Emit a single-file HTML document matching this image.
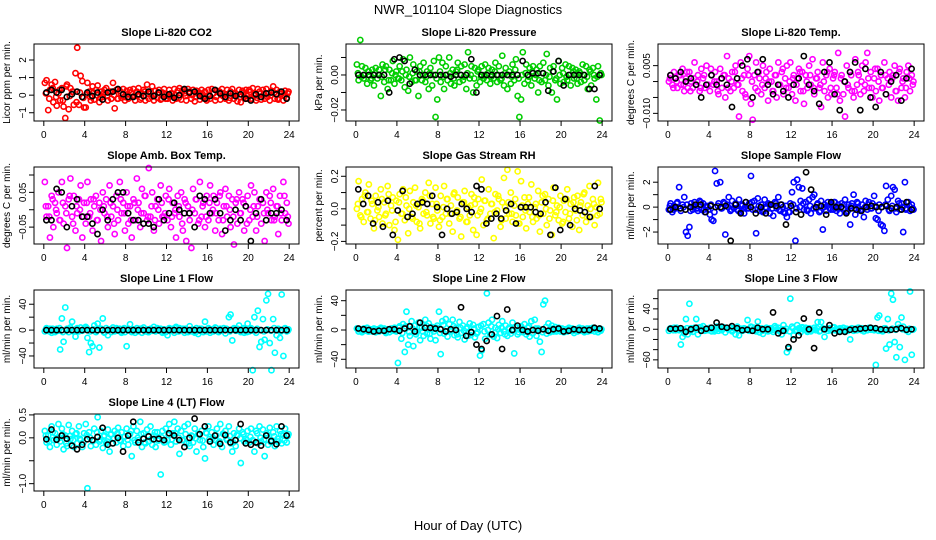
<!DOCTYPE html>
<html><head><meta charset="utf-8"><style>
body{margin:0;background:#fff}
svg{display:block;font-family:"Liberation Sans",sans-serif}
</style></head><body>
<svg id="chart" width="936" height="540" viewBox="0 0 936 540">
<rect width="936" height="540" fill="#fff"/>
<text x="468" y="14" text-anchor="middle" font-size="13">NWR_101104  Slope Diagnostics</text>
<text x="468" y="530" text-anchor="middle" font-size="13">Hour of Day (UTC)</text>
</svg>
<script>
const xTicks=[0,4,8,12,16,20,24];
const co2Vals=[70,85,-85,30,60,-40,75,-60,10,-30,40,-65,-130,60,-80,40,20,-55,125,270,-55,110,80,-70,
-70,70,20,-30,50,-25,30,55,-40,20,-10,30,40,-30,20,-20,70,-75,30,-20,25,-15,35,-30,
25,-20,30,-10,35,-30,20,40,-25,10,30,-30,60,-20,20,50,-30,25,-15,30,-25,15,35,-20,
-20,30,10,-30,35,-20,25,40,-25,30,10,-30,35,20,-20,30,-35,25,10,-25,30,-15,20,-30,
30,-20,35,10,-30,25,20,-25,35,10,-20,30,-30,20,35,-20,10,-35,30,-40,25,-10,30,-20,
30,-20,40,10,-30,35,20,-25,30,-20,35,10,-30,25,50,-20,30,-25,20,10,-30,25,-15,20];
const co2Band=[10,-20,40,-10,30,-30,50,-5,20,-40,15,-15,5,-10,15,0,-15,10,-5,20,0,-20,10,-10,5,15,-5,0,-15,20,10,-10,0,15,-20,5,-5,10,0,-15,20,-5,10,0,-10,15,5,-20,0,10,-10,20,-5,5,-15,10,0,-10,15,-5,20,0,-15,10,5,-10,0,15,-20,5,-5,10];
const co2Black=[15,30,15,30,-10,5,20,-10,15,-5,15,-25,15,20,35,5,-10,-10,5,-5,20,-5,15,-10,5,-15,0,35,15,20,-5,-20,-5,30,10,-10,10,-5,5,-20,-30,5,-10,10,15,5,20,-20];
const presVals=[6,-3,20,5,-2,4,-5,2,-3,3,-6,4,-2,3,-12,6,-4,5,-8,3,-3,8,-5,2,
-2,5,-3,9,-7,3,-9,10,-4,6,-3,2,-12,5,-3,7,-4,2,-8,4,-6,8,-24,-14,
10,-4,7,-8,5,-3,10,-5,3,-6,2,7,-4,5,-3,6,-8,13,-2,5,-10,4,-6,3,
-4,5,-2,6,-3,4,-5,3,-2,7,-4,5,-3,11,-6,4,-8,2,-5,6,-3,9,-12,-24,
-14,13,-5,6,-3,4,-6,5,-2,3,-10,5,-4,7,-3,12,-6,4,-10,5,-3,-14,8,-5,
4,-4,6,-3,5,-6,4,-2,3,-5,2,-4,6,-3,5,-8,3,-6,4,-2,-14,5,-26,0];
const presBand=[1,-1,0,2,-2,1,0,-1,3,-3,1,0,-2,2,0,-1,1,-3,2,0,-1,1,0,-2,2,-1,0,1,-2,3,0,-1,1,0,-2,2,-1,0,1,-1,2,0,-2,1,0,-1,3,-2,0,1,-1,2,0,-3,1,0,-1,2,-2,0,1,-1,0,2,-2,1,0,-1,2,0,-1,1];
const presBlack=[0,0,0,0,0,0,-10,9,10,8,-5,3,0,0,0,0,0,0,-1,0,0,0,9,-10,0,0,0,0,0,0,0,0,8,0,1,1,1,-9,2,8,-6,0,0,0,0,-8,-8,0];
const tempVals=[0,2,-1,3,1,-2,2,-1,4,-3,1,-2,3,0,-2,6,-1,2,-3,4,1,-2,5,-1,
-3,2,-1,3,0,-4,4,-2,2,-5,8,1,-3,3,-2,5,-1,-11,6,-3,2,-5,4,8,
-7,-12,2,6,-3,1,-4,5,-2,3,-6,4,0,-3,2,-5,6,-1,3,-4,1,5,-2,6,
-4,2,-6,1,4,-3,3,-7,2,-2,5,-1,7,-4,1,3,-2,-8,6,-3,2,-5,4,-4,
1,3,-2,9,-6,2,-4,-11,5,-2,3,-3,-5,7,-1,2,-4,5,-3,6,9,-2,3,-5,
1,-3,4,-6,2,-2,6,-4,1,3,-5,2,5,-3,-6,4,-2,1,-5,3,5,-3,2,0];
const tempBand=[1,-2,0,2,-1,3,-3,1,0,-2,2,-1,4,0,-3,1,2,-2,0,3,-1,1,-4,2,0,-2,3,-1,1,0,-3,2,-1,4,-2,0,1,-1,3,-3,0,2,-2,1,-1,0,3,-2,2,-4,1,0,-1,2,-3,3,0,-1,1,-2,4,0,-2,2,-1,1,-3,3,0,-2,1,-1];
const tempBlack=[2,1,3,0,1,-1,-5,-1,2,-1,1,-1,-8,1,5,7,-5,3,7,-1,-4,-1,-3,-5,-1,1,8,-1,-3,-7,3,6,-4,-9,0,3,6,-9,4,-5,-8,3,-4,0,2,-6,1,4];
const ambVals=[8,-2,1,-8,4,-5,2,-1,5,-3,8,-4,1,-11,3,9,-2,4,-6,-1,3,7,-8,2,
-4,8,-2,3,-6,1,4,-3,2,-9,5,-1,3,-5,7,-2,1,-7,4,-3,8,-1,2,-6,
5,-4,1,-8,3,-3,9,2,-5,6,-1,4,-3,12,-2,5,-6,1,3,-4,7,-2,-2,4,
-3,6,-5,2,-1,-8,4,-2,5,-6,3,-9,1,-3,-11,6,-1,3,-4,8,-2,2,-5,4,
-3,7,-1,4,-6,2,-3,5,-7,1,6,-2,4,-5,3,-10,2,-4,5,-1,3,-6,1,4,
-3,7,-2,5,-6,1,3,-4,2,-9,5,-1,4,-3,6,-2,1,-7,4,-3,8,-1,2,-4];
const ambBand=[1,-2,3,0,-3,2,-1,4,-4,1,0,-2,2,-1,3,-3,0,1,-2,2,-4,0,3,-1,1,-3,2,0,-1,4,-2,1,-3,0,2,-1,3,-2,0,1,-4,2,-1,0,3,-3,1,-2,2,0,-1,4,-3,1,0,-2,3,-1,2,-4,0,1,-2,3,-1,0,2,-3,1,-1,4,-2];
const ambBlack=[-3,-3,6,5,-5,1,3,-2,-2,-4,-7,0,-3,3,5,5,-1,-3,-3,-4,-4,-5,3,-3,-1,2,0,-1,-1,-5,4,3,-1,3,-1,-6,-3,0,-3,1,-9,-1,3,-3,-1,-1,0,-3];
const rhVals=[0,17,-4,6,-8,10,-2,15,-6,3,-12,8,-1,-5,12,-9,4,-3,14,-10,2,7,-13,5,
-19,9,-3,12,-7,2,-15,11,-5,4,13,-8,1,-12,6,-3,10,-4,16,-9,3,-6,13,-1,
-11,8,-5,14,-3,6,-9,2,-14,10,-2,7,-6,-17,4,11,-8,1,-4,9,-13,3,-16,6,
-2,18,-10,5,-7,12,-3,3,-18,9,-1,6,-11,4,19,-6,24,-3,10,-8,2,-4,23,-9,
17,-5,7,-12,3,-2,15,-8,1,-6,11,-14,4,-3,9,-10,6,-1,-16,13,-4,2,-7,8,
-9,5,-2,12,-6,3,-11,7,-1,8,-13,4,-4,10,-8,2,14,-5,6,-10,1,16,-3,4];
const rhBand=[3,-5,8,-2,5,-7,1,6,-4,9,-1,-8,4,-3,7,0,-6,2,-9,5,-2,8,-5,3,-7,1,6,-3,9,-1,-5,4,-8,2,7,-4,0,5,-6,3,-2,8,-7,1,4,-3,6,-9,2,-1,7,-5,3,-4,8,0,-6,5,-2,1,-8,6,-3,4,-7,2,9,-5,0,3,-4,6];
const rhBlack=[12,3,8,-9,4,-11,5,-16,-1,11,-5,-3,3,4,3,8,1,-16,0,-3,-2,3,0,-2,14,12,-9,-6,-3,-6,-1,3,-9,1,1,1,-2,-3,4,-16,13,-13,6,-10,0,-1,-2,-5,14,0];
const sampVals=[-2,3,-4,1,-1,4,16,-3,2,8,-20,-23,-16,3,-2,4,-1,-3,5,-2,3,-4,1,-2,
-6,-10,-11,29,19,3,20,-1,4,-22,2,8,-3,5,-1,3,-2,6,-4,2,-5,4,-1,3,
25,-2,5,-21,7,-3,2,-4,6,-1,3,-5,2,-7,4,-1,8,-3,2,-4,-5,-8,-4,3,
12,20,-27,22,16,5,15,-2,4,-3,6,-5,8,10,-1,3,-4,5,-18,2,-3,4,-1,3,
-2,4,-3,2,-5,3,-1,6,-4,2,-14,3,10,-6,4,-1,-3,2,-8,5,-2,4,-1,3,
9,-9,-10,2,-14,-15,-19,17,6,-3,9,16,14,-4,5,-2,3,-20,20,-1,4,-3,2,-2];
const sampBand=[1,-2,3,-1,0,2,-3,1,-1,4,-2,0,2,-4,1,-1,3,0,-2,2,-3,1,0,-1,4,-2,1,-3,0,2,-1,3,-2,0,1,-4,2,-1,0,3,-2,1,-1,2,-3,0,1,-2,4,-1,0,2,-3,1,-1,3,-2,0,2,-1,1,-3,0,2,-2,1,-1,3,0,-2,1,-1];
const sampBlack=[-2,0,-1,-2,0,2,2,-4,1,0,0,1,-27,2,-5,4,0,-5,0,-5,2,1,2,-14,1,-4,-6,28,14,0,1,-6,4,0,0,-5,-1,-2,-3,0,1,0,0,1,-1,0,-2,4,-2];
const l1Vals=[-2,3,-1,2,-4,1,-3,2,-1,-30,18,-18,35,2,-3,4,13,-1,-10,3,-2,4,-1,2,
5,-12,-34,-20,-25,7,-3,10,-27,2,18,-4,3,-8,1,-3,4,-2,3,-1,2,-4,1,-3,
-25,2,9,-3,1,-4,3,-1,2,-4,4,-2,1,-3,2,-1,5,-2,3,-1,2,-4,1,-3,
-8,3,-1,2,-4,5,-2,3,-1,2,-4,1,-3,6,-2,1,-4,3,-6,-1,2,-3,13,-2,
3,-4,1,-2,4,-1,-3,2,-1,3,-5,1,20,24,-16,3,-1,2,7,-3,1,-4,2,10,
-2,3,-62,20,-4,30,-26,-18,17,-15,46,56,-20,-62,17,-35,-8,2,-12,55,-40,3,-2,1];
const l1Band=[1,-2,2,-1,3,-3,0,1,-2,2,-1,0,3,-2,1,-1,2,-3,0,1,-1,2,-2,3,0,-1,1,-2,2,0,-3,1,-1,2,-2,0,1,-1,3,-2,0,2,-1,1,-3,2,0,-1,1,-2,3,-1,0,2,-2,1,-1,0,3,-3,1,-1,2,0,-2,1,-1,3,0,-2,2,-1];
const l1Black=[0,0,0,0,0,0,0,0,0,0,0,0,0,0,0,0,0,0,0,0,0,0,0,0,0,0,0,0,0,0,0,0,0,0,0,0,0,0,0,0,0,0,0,0,0,0,0,0];
const l2Vals=[2,-2,1,-3,2,-1,3,-2,1,-2,2,-3,1,-2,3,-1,2,-4,1,-3,2,-1,3,-2,
-45,5,-12,8,-30,25,-20,-8,12,-22,6,-3,10,-14,3,-8,14,-5,9,-12,4,-2,-14,6,
25,-33,12,-5,15,-9,8,-2,14,-7,3,-10,11,-4,6,-13,2,-8,9,-3,7,-10,-5,4,
-35,-28,8,-12,50,10,-6,14,-9,3,-11,7,-4,12,-2,6,-8,3,-5,10,-32,4,-6,2,
5,-3,8,-6,3,-9,12,-4,14,-8,2,-16,-30,35,40,-5,9,-3,6,-2,4,-1,3,-2,
2,-3,1,-2,3,-1,2,-4,1,-2,3,-1,2,-3,1,-2,2,-1,3,-2,1,-3,2,1];
const l2Band=[1,-1,2,-2,0,1,-1,2,-2,1,0,-1,3,-4,5,-3,2,-6,4,-2,6,-5,1,3,-4,7,-2,0,5,-6,3,-1,4,-7,2,-3,6,-2,0,5,-4,1,3,-6,2,-1,4,-3,1,-2,5,-4,2,0,-3,4,-1,2,-2,0,1,-1,2,-1,0,1,-2,2,-1,1,0,-1];
const l2Black=[2,1,0,-2,-1,-1,1,1,-1,2,5,-2,10,3,3,2,1,-2,1,0,31,-8,-3,-20,-26,-15,-6,19,-26,28,0,6,0,-2,0,-1,1,-1,1,2,-2,-1,1,0,0,0,3,2];
const l3Vals=[-3,2,-1,3,-2,1,-2,-30,-15,-8,20,-10,50,2,-5,3,20,-10,4,-2,6,-3,1,-2,
3,-4,2,-1,5,-3,1,-2,4,-6,2,-1,3,-4,2,-10,5,-12,1,-3,2,-1,18,-3,
5,-2,3,-4,15,-6,2,-9,1,3,-4,-3,2,-5,6,-2,3,-4,-10,8,-3,-45,-38,60,
5,-12,-3,8,2,-6,4,-1,3,-5,2,-4,-1,3,-2,14,-4,14,2,-15,1,-3,2,-1,
3,-2,1,-4,2,-1,3,-2,1,-2,-20,2,-3,1,-2,3,-1,2,-4,1,-2,3,-1,2,
-2,-70,23,27,-3,-4,2,-38,20,-30,70,58,-25,-55,10,-35,23,5,-60,-2,-5,74,-50,0];
const l3Band=[1,-2,3,-1,0,2,-3,1,-1,4,-2,0,2,-4,1,-1,3,0,-2,2,-3,1,0,-1,4,-2,1,-3,0,2,-1,3,-2,0,1,-4,2,-1,0,3,-2,1,-1,2,-3,0,1,-2,4,-1,0,2,-3,1,-1,3,-2,0,2,-1,1,-3,0,2,-2,1,-1,3,0,-2,1,-1];
const l3Black=[1,1,2,-5,0,3,-3,1,3,13,5,3,6,2,-2,-1,-3,3,0,0,33,-8,-3,-35,-20,-12,21,0,-37,33,0,8,-8,-5,-5,-1,0,1,2,3,2,0,-1,-1,0,2,-1,0];
const l4Vals=[15,-10,5,-20,25,-5,10,-15,30,-8,20,-25,5,-18,28,-3,15,-20,8,-12,25,-5,-20,10,
30,-110,12,-18,-5,20,-15,45,-8,15,-22,5,-12,18,-30,8,-2,15,-10,22,-5,12,-18,3,
20,-15,8,-40,25,-10,15,-5,35,-20,10,-12,18,-8,25,-15,5,-20,12,-3,-80,15,-10,20,
-5,30,-15,10,35,-8,20,-35,15,-5,25,-12,30,-18,5,-10,20,-30,8,-5,15,-20,-45,10,
25,-8,12,-15,-5,20,-10,30,-20,8,15,-5,25,-12,-30,10,-18,5,20,-55,12,-8,-2,15,
-10,20,-5,-30,15,-12,25,-8,18,-40,10,-15,22,-5,12,-18,25,-8,15,-12,5,20,-10,8];
const l4Band=[5,-8,12,-3,0,8,-12,4,-5,10,-2,-10,6,0,-6,12,-4,3,-8,7,-1,10,-7,2,-4,15,-5,0,8,-10,5,-2,12,-6,1,-9,6,-3,10,0,-5,8,-12,3,-1,7,-6,11,-3,0,5,-8,9,-2,4,-10,6,-1,8,-5,2,-7,10,0,-4,6,-9,3,-2,8,-6,4];
const l4Black=[-3,18,-4,5,-2,-17,-25,-15,-3,-5,2,22,-15,-12,0,-30,5,35,-10,-2,3,-3,-2,-5,10,5,-5,-20,0,42,8,25,-8,5,-13,6,-10,-5,30,-12,-15,-10,-17,5,-7,-14,25,5];

const panels=[
 {name:'co2',title:'Slope Li-820 CO2',ylab:'Licor ppm per min.',col:0,row:0,color:'#ff0000',vals:co2Vals,band:co2Band,blk:co2Black,unit:0.01,ymin:-1.47,ymax:2.91,ticks:[-1,0,1,2],labs:['\u22121','0','1','2']},
 {name:'pressure',title:'Slope Li-820 Pressure',ylab:'kPa per min.',col:1,row:0,color:'#00cd00',vals:presVals,band:presBand,blk:presBlack,unit:0.001,ymin:-0.0263,ymax:0.0177,ticks:[-0.02,-0.01,0,0.01],labs:['\u22120.02','','0.00','']},
 {name:'li820-temp',title:'Slope Li-820 Temp.',ylab:'degrees C per min.',col:2,row:0,color:'#ff00ff',vals:tempVals,band:tempBand,blk:tempBlack,unit:0.001,ymin:-0.0124,ymax:0.0118,ticks:[-0.01,-0.005,0,0.005],labs:['\u22120.010','','','0.005']},
 {name:'amb-box-temp',title:'Slope Amb. Box Temp.',ylab:'degrees C per min.',col:0,row:1,color:'#ff00ff',vals:ambVals,band:ambBand,blk:ambBlack,unit:0.01,ymin:-0.0986,ymax:0.123,ticks:[-0.05,0,0.05,0.1],labs:['\u22120.05','','0.05','']},
 {name:'gas-rh',title:'Slope Gas Stream RH',ylab:'percent per min.',col:1,row:1,color:'#ffff00',vals:rhVals,band:rhBand,blk:rhBlack,unit:0.01,ymin:-0.216,ymax:0.257,ticks:[-0.2,-0.1,0,0.1,0.2],labs:['\u22120.2','','0.0','','0.2']},
 {name:'sample-flow',title:'Slope Sample Flow',ylab:'ml/min per min.',col:2,row:1,color:'#0000ff',vals:sampVals,band:sampBand,blk:sampBlack,unit:0.1,ymin:-2.96,ymax:3.22,ticks:[-2,-1,0,1,2],labs:['\u22122','','0','','2']},
 {name:'line1-flow',title:'Slope Line 1 Flow',ylab:'ml/min per min.',col:0,row:2,color:'#00ffff',vals:l1Vals,band:l1Band,blk:l1Black,unit:1,ymin:-58.6,ymax:62,ticks:[-40,-20,0,20,40],labs:['\u221240','','0','','40']},
 {name:'line2-flow',title:'Slope Line 2 Flow',ylab:'ml/min per min.',col:1,row:2,color:'#00ffff',vals:l2Vals,band:l2Band,blk:l2Black,unit:1,ymin:-51.9,ymax:54.6,ticks:[-40,-20,0,20,40],labs:['\u221240','','0','','40']},
 {name:'line3-flow',title:'Slope Line 3 Flow',ylab:'ml/min per min.',col:2,row:2,color:'#00ffff',vals:l3Vals,band:l3Band,blk:l3Black,unit:1,ymin:-76,ymax:77,ticks:[-60,-40,-20,0,20,40,60],labs:['\u221260','','','0','','40','']},
 {name:'line4-flow',title:'Slope Line 4 (LT) Flow',ylab:'ml/min per min.',col:0,row:3,color:'#00ffff',vals:l4Vals,band:l4Band,blk:l4Black,unit:0.01,ymin:-1.16,ymax:0.52,ticks:[-1,-0.5,0,0.5],labs:['\u22121.0','','0.0','0.5']}
];
const colX=[[34,299],[346,612],[658,924]];
const rowY=[[44,121],[167,244],[290,368],[414,491]];
const NS='http://www.w3.org/2000/svg';
const svg=document.getElementById('chart');
function mk(tag,attrs,parent){const e=document.createElementNS(NS,tag);for(const k in attrs)e.setAttribute(k,attrs[k]);parent.appendChild(e);return e;}
panels.forEach(p=>{
  const [L,R]=colX[p.col],[T,B]=rowY[p.row];
  const xs=h=>L+(h+0.96)/25.92*(R-L);
  const ys=v=>B-(v-p.ymin)/(p.ymax-p.ymin)*(B-T);
  const g=mk('g',{},svg);
  
  
  const t=mk('text',{x:(L+R)/2,y:T-8,'text-anchor':'middle','font-size':11,'font-weight':'bold'},g);
  t.textContent=p.title;
  
  
  const yl=mk('text',{x:0,y:0,'text-anchor':'middle','font-size':10,transform:`translate(${L-24},${(T+B)/2}) rotate(-90)`},g);
  yl.textContent=p.ylab;
  
  
  const cg=mk('g',{},g);
  
  
  const n=p.vals.length;
  p.vals.forEach((v,i)=>{
    const c=mk('circle',{cx:xs(i*24/n+0.1),cy:ys(v*p.unit),r:2.6,fill:'none',stroke:p.color,'stroke-width':1.6},cg);
    
    
  });
  const nb=p.band.length;
  p.band.forEach((v,i)=>{
    const c=mk('circle',{cx:xs(i*24/nb+0.2),cy:ys(v*p.unit),r:2.6,fill:'none',stroke:p.color,'stroke-width':1.6},cg);
    
    
  });
  const m=p.blk.length;
  p.blk.forEach((v,i)=>{
    const c=mk('circle',{cx:xs((i+0.5)*24/m),cy:ys(v*p.unit),r:2.6,fill:'none',stroke:'#000','stroke-width':1.6},cg);
    
    
  });
  const box=mk('rect',{x:L,y:T,width:R-L,height:B-T,fill:'none',stroke:'#000','stroke-width':1},g);
  
  
  xTicks.forEach(h=>{
    mk('line',{x1:xs(h),x2:xs(h),y1:B,y2:B+5,stroke:'#000'},g);
    const tl=mk('text',{x:xs(h),y:B+17,'text-anchor':'middle','font-size':10},g);
    tl.textContent=h;
    
    
  });
  p.ticks.forEach((v,i)=>{
    const y=ys(v);
    mk('line',{x1:L-5,x2:L,y1:y,y2:y,stroke:'#000'},g);
    if(p.labs[i]){
      const tl=mk('text',{x:0,y:0,'text-anchor':'middle','font-size':10,transform:`translate(${L-8},${y}) rotate(-90)`},g);
      tl.textContent=p.labs[i];
      
      
    }
  });
});
</script>
</body></html>
